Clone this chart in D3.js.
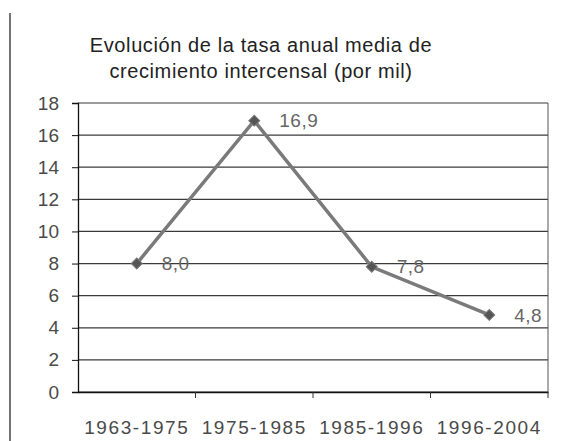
<!DOCTYPE html>
<html>
<head>
<meta charset="utf-8">
<script src="https://cdn.jsdelivr.net/npm/d3@7"></script>
<style>
  body { margin: 0; background: #fff; }
  text { font-family: 'Liberation Sans', Arial, sans-serif; }
</style>
</head>
<body>
<div id="chart"></div>
<script>
const periods = ['1963-1975', '1975-1985', '1985-1996', '1996-2004'];
const rates = [8.0, 16.9, 7.8, 4.8];
const rateLabels = ['8,0', '16,9', '7,8', '4,8'];
const yTicks = [0, 2, 4, 6, 8, 10, 12, 14, 16, 18];
const titleLines = ['Evolución de la tasa anual media de', 'crecimiento intercensal (por mil)'];

const size = { width: 562, height: 441 };
const margin = { top: 103, right: 14, bottom: 49, left: 78 };

const svg = d3.select('#chart')
  .append('svg')
  .attr('width', size.width)
  .attr('height', size.height);

// scanned frame edge on the left
svg.append('line')
  .attr('x1', 10).attr('x2', 10)
  .attr('y1', 13).attr('y2', size.height)
  .attr('stroke', '#444')
  .attr('stroke-width', 1.5);

svg.append('g')
  .selectAll('text')
  .data(titleLines)
  .enter()
  .append('text')
  .attr('x', 261)
  .attr('y', (d, i) => 52 + i * 26)
  .attr('text-anchor', 'middle')
  .attr('font-size', 20)
  .attr('letter-spacing', 0.6)
  .attr('fill', '#222')
  .text((d) => d);

const x = d3.scaleBand()
  .domain(periods)
  .range([margin.left, size.width - margin.right]);

const y = d3.scaleLinear()
  .domain([0, 18])
  .range([size.height - margin.bottom, margin.top]);

// gridlines
svg.append('g')
  .selectAll('line')
  .data(yTicks)
  .enter()
  .append('line')
  .attr('x1', margin.left)
  .attr('x2', size.width - margin.right)
  .attr('y1', (d) => y(d))
  .attr('y2', (d) => y(d))
  .attr('stroke', '#3a3a3a')
  .attr('stroke-width', 1.2);

// right border
svg.append('line')
  .attr('x1', size.width - margin.right)
  .attr('x2', size.width - margin.right)
  .attr('y1', y(18))
  .attr('y2', y(0))
  .attr('stroke', '#555')
  .attr('stroke-width', 1);

const yAxis = svg.append('g')
  .attr('transform', `translate(${margin.left},0)`)
  .call(d3.axisLeft(y).tickValues(yTicks).tickSize(6).tickPadding(13));

const xAxis = svg.append('g')
  .attr('transform', `translate(0,${y(0)})`)
  .call(d3.axisBottom(x).tickSize(0).tickPadding(29));

// band boundary ticks
svg.append('g')
  .selectAll('line')
  .data(periods.slice(1).concat(['end']))
  .enter()
  .append('line')
  .attr('x1', (d) => (d === 'end' ? x.range()[1] : x(d)))
  .attr('x2', (d) => (d === 'end' ? x.range()[1] : x(d)))
  .attr('y1', y(0))
  .attr('y2', y(0) + 6)
  .attr('stroke', '#333');

[yAxis, xAxis].forEach((ax) => {
  ax.select('.domain').attr('stroke', '#111').attr('stroke-width', 1.3);
  ax.selectAll('.tick line').attr('stroke', '#111');
  ax.selectAll('text')
    .attr('font-size', 19)
    .attr('fill', '#4a4a4a')
    .style('font-family', "'Liberation Sans', Arial, sans-serif");
});
xAxis.selectAll('text').attr('letter-spacing', 1.6);

const cx = (d, i) => x(periods[i]) + x.bandwidth() / 2;

const line = d3.line()
  .x(cx)
  .y((d) => y(d));

svg.append('path')
  .datum(rates)
  .attr('d', line)
  .attr('fill', 'none')
  .attr('stroke', '#7a7a7a')
  .attr('stroke-width', 3.5);

svg.append('g')
  .selectAll('path')
  .data(rates)
  .enter()
  .append('path')
  .attr('d', d3.symbol(d3.symbolSquare, 60))
  .attr('transform', (d, i) => `translate(${cx(d, i)},${y(d)}) rotate(45)`)
  .attr('fill', '#555')
  .attr('stroke', '#777');

svg.append('g')
  .selectAll('text')
  .data(rates)
  .enter()
  .append('text')
  .attr('x', (d, i) => cx(d, i) + 25)
  .attr('y', (d) => y(d))
  .attr('dy', '0.35em')
  .attr('font-size', 19)
  .attr('letter-spacing', 0.5)
  .attr('fill', '#666')
  .text((d, i) => rateLabels[i]);
</script>
</body>
</html>
